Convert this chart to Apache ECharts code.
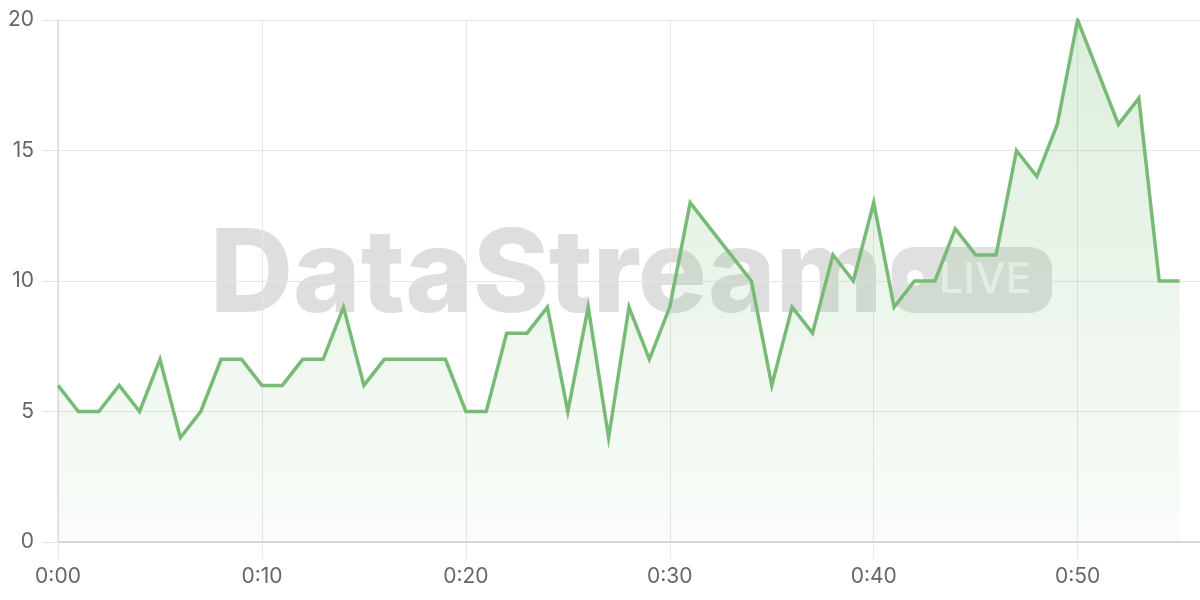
<!DOCTYPE html>
<html>
<head>
<meta charset="utf-8">
<script src="https://cdn.jsdelivr.net/npm/echarts@6/dist/echarts.min.js"></script>
<style>
html,body{margin:0;padding:0;background:#fff;}
#chart{width:1200px;height:600px;}
</style>
</head>
<body>
<div id="chart"></div>
<script>
// minutes since start
const minutes = [0,1,2,3,4,5,6,7,8,9,10,11,12,13,14,15,16,17,18,19,20,21,22,23,24,25,26,27,28,29,30,31,32,33,34,35,36,37,38,39,40,41,42,43,44,45,46,47,48,49,50,51,52,53,54,55];
const values = [6,5,5,6,5,7,4,5,7,7,6,6,7,7,9,6,7,7,7,7,5,5,8,8,9,5,9,4,9,7,9,13,12,11,10,6,9,8,11,10,13,9,10,10,12,11,11,15,14,16,20,18,16,17,10,10];
const xTickValues = [0,10,20,30,40,50];
const xTickLabels = ['0:00','0:10','0:20','0:30','0:40','0:50'];
const yTicks = [0,5,10,15,20];

const chart = echarts.init(document.getElementById('chart'));
const gridCol = '#e6e6e6';
const labelCol = '#666';
const font = 'Inter, "Open Sans", sans-serif';

chart.setOption({
  animation: false,
  grid: {left: 58, right: 0, top: 20, bottom: 58, containLabel: false},
  graphic: [
    {type: 'text', z: 0,
      style: {text: 'DataStream', x: 210, y: 277, verticalAlign: 'middle', align: 'left',
        fill: '#dedede', font: '800 115px Inter, sans-serif'}},
    {type: 'rect', z: 0, shape: {x: 892, y: 247, width: 160, height: 66, r: 22},
      style: {fill: '#e0e0e0'}},
    {type: 'circle', z: 1, shape: {cx: 915, cy: 278, r: 8}, style: {fill: '#ffffff'}},
    {type: 'text', z: 1,
      style: {text: 'LIVE', x: 939, y: 280, verticalAlign: 'middle', align: 'left',
        fill: '#f5f5f5', font: '500 43px Inter, sans-serif'}}
  ],
  xAxis: {
    type: 'value', min: 0, max: 56, interval: 10,
    axisLine: {show: true, lineStyle: {color: '#cfcfcf', width: 1.5}},
    axisTick: {show: true, length: 16, customValues: xTickValues, lineStyle: {color: gridCol, width: 1}},
    axisLabel: {margin: 24, fontSize: 21, color: labelCol, fontFamily: font,
      customValues: xTickValues,
      formatter: v => { const k = xTickValues.indexOf(v); return k >= 0 ? xTickLabels[k] : ''; }},
    splitLine: {show: true, lineStyle: {color: [gridCol, gridCol, gridCol, gridCol, gridCol, gridCol, 'rgba(0,0,0,0)'], width: 1}}
  },
  yAxis: {
    type: 'value', min: 0, max: 20, interval: 5,
    axisLine: {show: true, lineStyle: {color: '#dcdcdc', width: 1.5}},
    axisTick: {show: true, length: 16, lineStyle: {color: gridCol, width: 1}},
    axisLabel: {margin: 24, fontSize: 21, color: labelCol, fontFamily: font,
      formatter: v => yTicks.indexOf(v) >= 0 ? String(v) : ''},
    splitLine: {show: true, lineStyle: {color: gridCol, width: 1}}
  },
  series: [{
    type: 'line',
    data: minutes.map((m, i) => [m, values[i]]),
    showSymbol: false,
    z: 5,
    lineStyle: {color: '#78bb76', width: 3.5, join: 'miter'},
    itemStyle: {color: '#78bb76'},
    areaStyle: {
      color: {type: 'linear', global: true,
        x: 0, y: 20, x2: 0, y2: 542,
        colorStops: [
          {offset: 0, color: 'rgba(120,187,118,0.36)'},
          {offset: 1, color: 'rgba(120,187,118,0.06)'}
        ]}
    }
  }]
});
</script>
</body>
</html>
